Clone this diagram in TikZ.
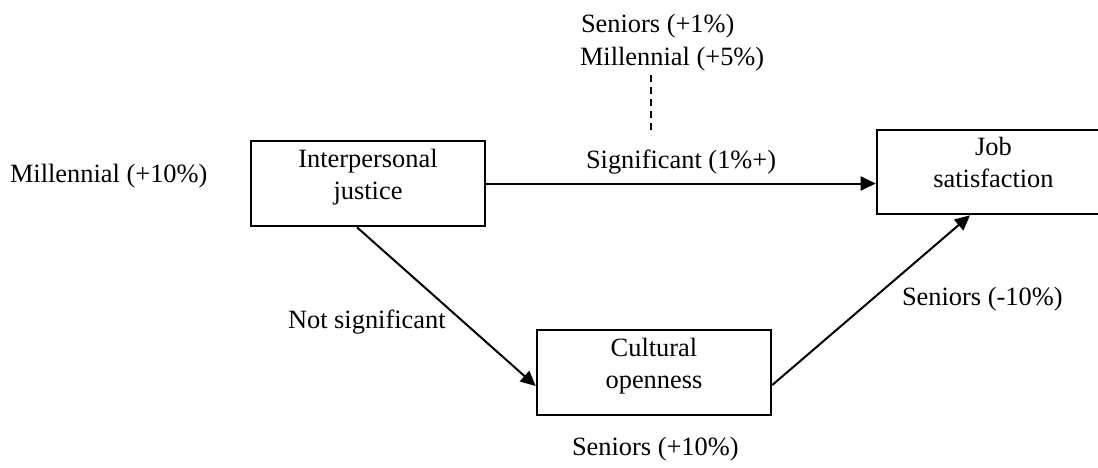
\documentclass[tikz,border=0pt]{standalone}
\usepackage{fontspec}
\setmainfont{Liberation Serif}
\usetikzlibrary{arrows.meta,calc}
\begin{document}
\begin{tikzpicture}[x=1pt,y=-1pt,
  txt/.style={font=\fontsize{26.4}{32}\selectfont, inner sep=0pt, outer sep=0pt},
  boxtxt/.style={txt, align=center, anchor=north},
  box/.style={draw, line width=2.6pt, inner sep=0pt},
  conn/.style={line width=2pt, -{Triangle[length=15pt,width=14pt]}},
  dashline/.style={line width=2pt, dash pattern=on 7pt off 5pt}]
\useasboundingbox (0,0) rectangle (1098,467);
\clip (0,0) rectangle (1098,467);
% boxes
\node[box, minimum width=234pt, minimum height=85pt] (ij) at (368,183.5) {};
\node[box, minimum width=234pt, minimum height=85pt] (co) at (654,372.5) {};
\node[box, minimum width=233pt, minimum height=84pt] (js) at (993.5,172) {};
% box texts
\node[boxtxt] (ijt) at (368,149) {Interpersonal\\justice};
\node[boxtxt] (cot) at (654,338) {Cultural\\openness};
\node[boxtxt] (jst) at (993.5,137) {Job\\satisfaction};
% labels
\node[txt, anchor=base west] (s1) at (581,32) {Seniors (+1\%)};
\node[txt, anchor=base west] (m5) at (580,65) {Millennial (+5\%)};
\node[txt, anchor=base west] (sig) at (586,168) {Significant (1\%+)};
\node[txt, anchor=base west] (m10) at (10,182) {Millennial (+10\%)};
\node[txt, anchor=base west] (ns) at (288,328) {Not significant};
\node[txt, anchor=base west] (sm10) at (902,305) {Seniors (-10\%)};
\node[txt, anchor=base west] (sp10) at (572,455) {Seniors (+10\%)};
% connectors
\draw[conn] (ij.east) -- (ij.east -| js.west);
\draw[conn] ($(ij.south)+(-11,0)$) -- ($(co.west)+(0,13.5)$);
\draw[conn] ($(co.east)+(0,12.5)$) -- ($(js.south)+(-23.5,0)$);
\coordinate (dtop) at (651,75);
\coordinate (dbot) at (651,135);
\draw[dashline] (dtop) -- (dbot);
\end{tikzpicture}
\end{document}
